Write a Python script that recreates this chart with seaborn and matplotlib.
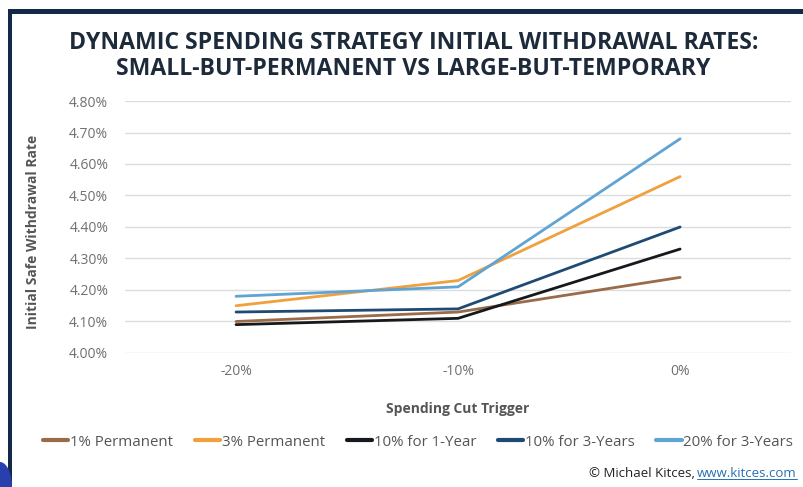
import matplotlib
matplotlib.use("Agg")
import matplotlib.pyplot as plt
from matplotlib.lines import Line2D
from matplotlib.patches import Rectangle, Ellipse
import seaborn as sns
import pandas as pd

# Spending cut trigger levels and the initial safe withdrawal rate (%) per strategy
triggers = ["-20%", "-10%", "0%"]
series_names = ["1% Permanent", "3% Permanent", "10% for 1-Year",
                "10% for 3-Years", "20% for 3-Years"]
permanent_1 = [4.10, 4.13, 4.24]
permanent_3 = [4.15, 4.23, 4.56]
temp_10_1yr = [4.09, 4.11, 4.33]
temp_10_3yr = [4.13, 4.14, 4.40]
temp_20_3yr = [4.18, 4.21, 4.68]
y_ticks = [4.00, 4.10, 4.20, 4.30, 4.40, 4.50, 4.60, 4.70, 4.80]

colors = ["#9a6b48", "#f0a03c", "#15181c", "#1f4a73", "#5fa4d2"]

rows = []
for name, vals in zip(series_names,
                      [permanent_1, permanent_3, temp_10_1yr, temp_10_3yr, temp_20_3yr]):
    for t, v in zip(triggers, vals):
        rows.append({"trigger": t, "rate": v, "series": name})
df = pd.DataFrame(rows)

sns.set_theme(style="white")
plt.rcParams["font.family"] = ["Open Sans", "DejaVu Sans"]

fig = plt.figure(figsize=(8.04, 4.87), dpi=100)
fig.patch.set_facecolor("white")
ax = fig.add_axes([0.1555, 0.2752, 0.8285, 0.5174])

palette = dict(zip(series_names, colors))
sns.lineplot(data=df, x="trigger", y="rate", hue="series", hue_order=series_names,
             palette=palette, linewidth=2.0, ax=ax, legend=False, sort=False)

ax.set_xlim(-0.5, 2.5)
ax.set_ylim(4.0, 4.8)
ax.set_yticks(y_ticks)
ax.set_yticklabels([f"{v:.2f}%" for v in y_ticks])
ax.grid(axis="y", color="#dcdcdc", linewidth=1.0)
ax.set_axisbelow(True)
for s in ax.spines.values():
    s.set_visible(False)
ax.tick_params(axis="both", length=0, labelsize=10, colors="#707070")
ax.tick_params(axis="y", pad=12)
ax.tick_params(axis="x", pad=8)

ax.set_xlabel("Spending Cut Trigger", fontsize=10, fontweight="bold",
              color="#555555")
ax.xaxis.set_label_coords(0.5, -0.195)
ax.set_ylabel("Initial Safe Withdrawal Rate", fontsize=10, fontweight="bold",
              color="#555555")
ax.yaxis.set_label_coords(-0.127, 0.48)

fig.text(0.514, 0.912, "DYNAMIC SPENDING STRATEGY INITIAL WITHDRAWAL RATES:",
         ha="center", va="center", fontsize=16.6, fontweight="bold", color="#1d2a3a")
fig.text(0.514, 0.858, "SMALL-BUT-PERMANENT VS LARGE-BUT-TEMPORARY",
         ha="center", va="center", fontsize=16.6, fontweight="bold", color="#1d2a3a")

handles = [Line2D([0], [0], color=c, lw=3) for c in colors]
fig.legend(handles, series_names, loc="center", bbox_to_anchor=(0.52, 0.0924),
           ncol=5, frameon=False, fontsize=10.8, handlelength=1.7, handletextpad=0.1,
           columnspacing=1.45, labelcolor="#555555")

url = fig.text(0.991, 0.028, "www.kitces.com", ha="right", va="center",
               fontsize=9.5, color="#2a6fb0")
fig.canvas.draw()
bb = url.get_window_extent()
fig.add_artist(Line2D([bb.x0 / fig.bbox.width, bb.x1 / fig.bbox.width],
                      [bb.y0 / fig.bbox.height + 0.002] * 2,
                      color="#2a6fb0", lw=0.7, transform=fig.transFigure))
fig.text(bb.x0 / fig.bbox.width - 0.003, 0.028, "\u00a9 Michael Kitces,", ha="right",
         va="center", fontsize=9.5, color="#222222")

# Dark frame along the top and left edges
fig.add_artist(Rectangle((8 / 804, 1 - 14 / 487), 1, 5 / 487, transform=fig.transFigure,
                         color="#12294a", lw=0))
fig.add_artist(Rectangle((8 / 804, 0), 4 / 804, 1 - 9 / 487, transform=fig.transFigure,
                         color="#12294a", lw=0))
fig.add_artist(Ellipse((0, 0), 24 / 804, 50 / 487, transform=fig.transFigure,
                       color="#2a3fae", lw=0))

fig.savefig("out.png", dpi=100, facecolor="white")
